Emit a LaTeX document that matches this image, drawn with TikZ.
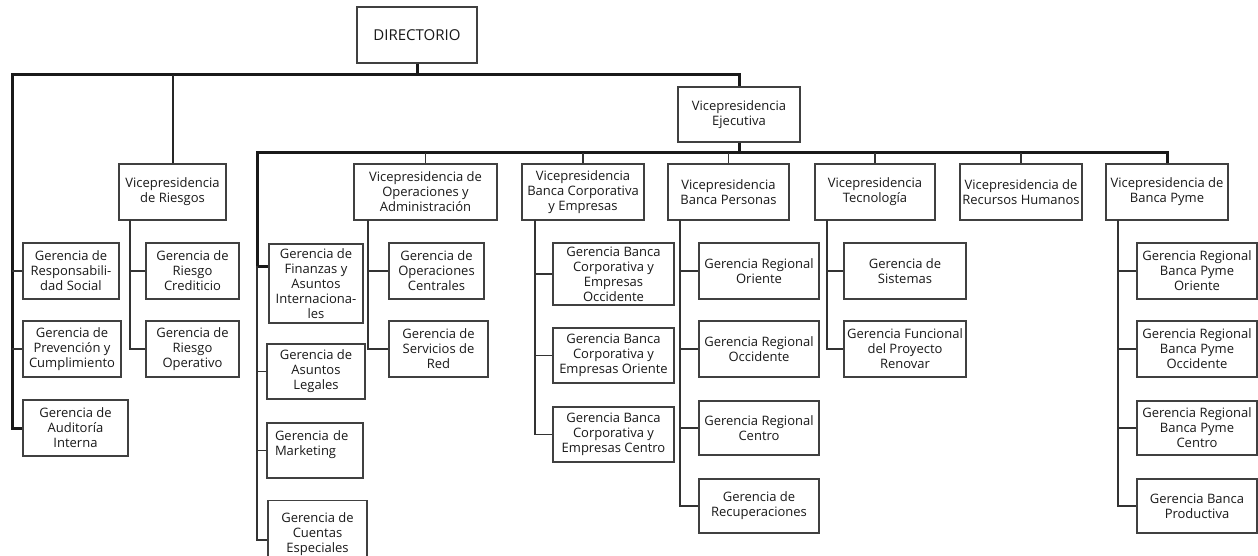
\documentclass[tikz,border=0pt]{standalone}
\usepackage{fontspec}
\setmainfont{Open Sans}
\usepackage{tikz}

\begin{document}
\begin{tikzpicture}[x=1pt,y=-1pt,
    caja/.style ={draw=black!75, line width=1.2pt, fill=white, align=center,
      inner sep=1pt, text=black!90, font=\fontsize{13}{15}\selectfont},
    grueso/.style ={line width=3pt, black!90},
    medio/.style ={line width=2pt, black!85},
    delgado/.style ={line width=1.3pt, black!80}]
   \useasboundingbox (0,0) rectangle (1258,556);
   \clip (0,0) rectangle (1258,556);
   % nivel superior
   \node[caja, minimum width=120, minimum height=56, font=\fontsize{15}{18}\selectfont] (dir) at (417,35) {DIRECTORIO};
   \node[caja, minimum width=122, minimum height=55] (vpe) at (739,114.5) {Vicepresidencia\\Ejecutiva};
   \node[caja, minimum width=107, minimum height=56] (vpr) at (172.5,192) {Vicepresidencia\\de Riesgos};
   % gerencias del directorio
   \node[caja, minimum width=96, minimum height=56] (grs) at (71,271) {Gerencia de\\Responsabili-\\dad Social};
   \node[caja, minimum width=98, minimum height=56] (gpc) at (72,349) {Gerencia de\\Prevención y\\Cumplimiento};
   \node[caja, minimum width=105, minimum height=56] (gai) at (75.5,428) {Gerencia de\\Auditoría\\Interna};
   % riesgos
   \node[caja, minimum width=93, minimum height=56] (grc) at (192.5,271) {Gerencia de\\Riesgo\\Crediticio};
   \node[caja, minimum width=93, minimum height=56] (gro) at (192.5,349) {Gerencia de\\Riesgo\\Operativo};
   % vicepresidencias
   \node[caja, minimum width=143, minimum height=56] (vpo) at (425.5,192) {Vicepresidencia de\\Operaciones y\\Administración};
   \node[caja, minimum width=122, minimum height=56] (vpc) at (583,192) {Vicepresidencia\\Banca Corporativa\\y Empresas};
   \node[caja, minimum width=121, minimum height=56] (vpp) at (728.5,192) {Vicepresidencia\\Banca Personas};
   \node[caja, minimum width=120, minimum height=56] (vpt) at (875,192) {Vicepresidencia\\Tecnología};
   \node[caja, minimum width=122, minimum height=56] (vph) at (1021,192) {Vicepresidencia de\\Recursos Humanos};
   \node[caja, minimum width=122, minimum height=56] (vpy) at (1167,192) {Vicepresidencia de\\Banca Pyme};
   % gerencias de la ejecutiva
   \node[caja, minimum width=94, minimum height=79] (gfa) at (316,283.5) {Gerencia de\\Finanzas y\\Asuntos\\Internaciona-\\les};
   \node[caja, minimum width=98, minimum height=55] (gal) at (316,371.5) {Gerencia de\\Asuntos\\Legales};
   \node[caja, minimum height=55, text width=80, inner xsep=8pt, align=left] (gmk) at (315,450.5) {Gerencia de\\Marketing\\~};
   \node[caja, minimum width=99, minimum height=79] (gce) at (317.5,540) {Gerencia de\\Cuentas\\Especiales\\~};
   % operaciones
   \node[caja, minimum width=95, minimum height=56] (goc) at (436.5,271) {Gerencia de\\Operaciones\\Centrales};
   \node[caja, minimum width=99, minimum height=56] (gsr) at (438.5,349) {Gerencia de\\Servicios de\\Red};
   % banca corporativa
   \node[caja, minimum width=121, minimum height=62] (gbo) at (613.5,274) {Gerencia Banca\\Corporativa y\\Empresas\\Occidente};
   \node[caja, minimum width=121, minimum height=55] (gbr) at (613.5,355.5) {Gerencia Banca\\Corporativa y\\Empresas Oriente};
   \node[caja, minimum width=121, minimum height=55] (gbc) at (613.5,434.5) {Gerencia Banca\\Corporativa y\\Empresas Centro};
   % banca personas
   \node[caja, minimum width=120, minimum height=56] (gpo) at (759,271) {Gerencia Regional\\Oriente};
   \node[caja, minimum width=120, minimum height=56] (gpw) at (759,349) {Gerencia Regional\\Occidente};
   \node[caja, minimum width=120, minimum height=54] (gpe) at (759,428) {Gerencia Regional\\Centro};
   \node[caja, minimum width=120, minimum height=54] (gre) at (759,506) {Gerencia de\\Recuperaciones};
   % tecnologia
   \node[caja, minimum width=122, minimum height=56] (gsi) at (905,271) {Gerencia de\\Sistemas};
   \node[caja, minimum width=122, minimum height=56] (gfp) at (905,349) {Gerencia Funcional\\del Proyecto\\Renovar};
   % banca pyme
   \node[caja, minimum width=120, minimum height=56] (gyo) at (1197,271) {Gerencia Regional\\Banca Pyme\\Oriente};
   \node[caja, minimum width=120, minimum height=56] (gyw) at (1197,349) {Gerencia Regional\\Banca Pyme\\Occidente};
   \node[caja, minimum width=120, minimum height=54] (gye) at (1197,428) {Gerencia Regional\\Banca Pyme\\Centro};
   \node[caja, minimum width=120, minimum height=54] (gbp) at (1197,506) {Gerencia Banca\\Productiva};
   % puntos de las lineas
   \coordinate (bar1) at (417,75);
   \coordinate (izq) at (12,428);
   \coordinate (lr) at (130,220);
   \coordinate (bar2) at (739,153);
   \coordinate (b2i) at (257,153);
   \coordinate (b2d) at (1167,153);
   \coordinate (fin) at (257,266);
   \coordinate (lo) at (368,220);
   \coordinate (lc) at (535,220);
   \coordinate (lp) at (680,220);
   \coordinate (lt) at (827,220);
   \coordinate (ly) at (1118,220);
   % directorio
   \draw[grueso] (dir.south) -- (bar1) -| (vpe.north);
   \draw[grueso] (bar1) -| (izq) -- (gai.west);
   \draw[delgado] (grs.west) -- (grs.west -| izq);
   \draw[delgado] (gpc.west) -- (gpc.west -| izq);
   \draw[medio] (vpr.north) -- (vpr.north |- bar1);
   \draw[delgado] (lr) |- (gro.west);
   \draw[delgado] (grc.west) -- (grc.west -| lr);
   % ejecutiva
   \draw[grueso] (vpe.south) -- (bar2);
   \draw[grueso] (fin) -- (b2i) -- (b2d) -- (vpy.north);
   \draw[grueso] (fin) -- (fin -| gfa.west);
   \draw[delgado] (fin) |- (gce.west);
   \draw[delgado] (gal.west) -- (gal.west -| fin);
   \draw[delgado] (gmk.west) -- (gmk.west -| fin);
   \draw[delgado] (vpo.north) -- (vpo.north |- bar2);
   \draw[delgado] (vpc.north) -- (vpc.north |- bar2);
   \draw[delgado] (vpp.north) -- (vpp.north |- bar2);
   \draw[delgado] (vpt.north) -- (vpt.north |- bar2);
   \draw[delgado] (vph.north) -- (vph.north |- bar2);
   % operaciones
   \draw[delgado] (lo) |- (gsr.west);
   \draw[delgado] (goc.west) -- (goc.west -| lo);
   % banca corporativa
   \draw[delgado] (lc) |- (gbc.west);
   \draw[delgado] (gbo.west) -- (gbo.west -| lc);
   \draw[delgado] (gbr.west) -- (gbr.west -| lc);
   % banca personas
   \draw[delgado] (lp) |- (gre.west);
   \draw[delgado] (gpo.west) -- (gpo.west -| lp);
   \draw[delgado] (gpw.west) -- (gpw.west -| lp);
   \draw[delgado] (gpe.west) -- (gpe.west -| lp);
   % tecnologia
   \draw[delgado] (lt) |- (gfp.west);
   \draw[delgado] (gsi.west) -- (gsi.west -| lt);
   % banca pyme
   \draw[delgado] (ly) |- (gbp.west);
   \draw[delgado] (gyo.west) -- (gyo.west -| ly);
   \draw[delgado] (gyw.west) -- (gyw.west -| ly);
   \draw[delgado] (gye.west) -- (gye.west -| ly);
 \end{tikzpicture}
\end{document}
